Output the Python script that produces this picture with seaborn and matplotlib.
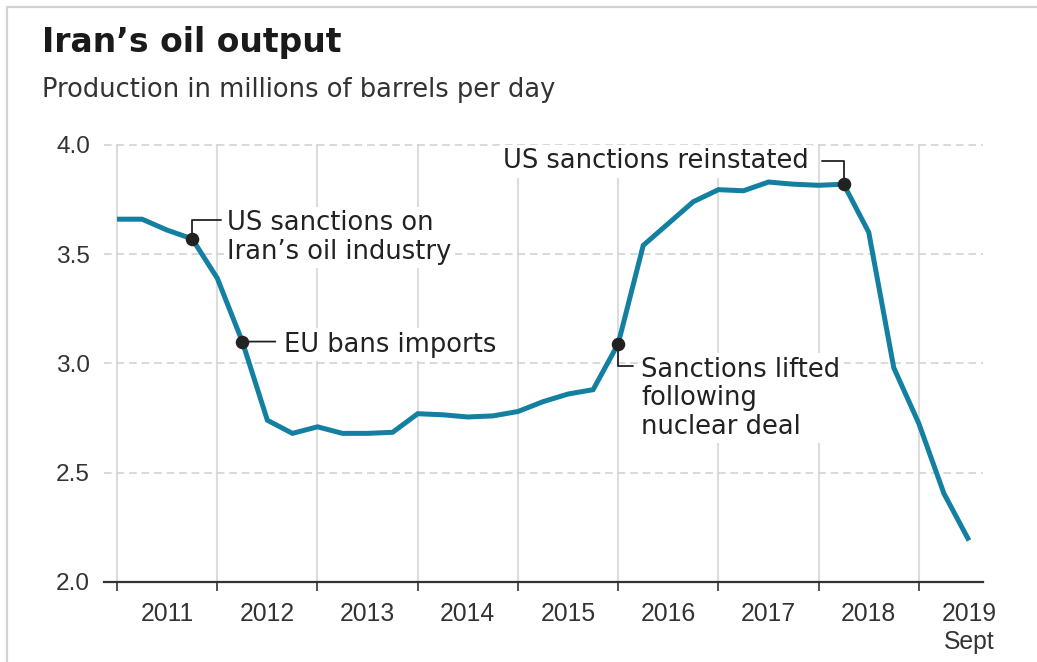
import matplotlib
matplotlib.use("Agg")
import numpy as np
import pandas as pd
import matplotlib.pyplot as plt
from matplotlib.lines import Line2D
import seaborn as sns

# Quarterly crude output, millions of barrels per day
quarters = pd.period_range("2011Q1", "2019Q3", freq="Q")
output_mbpd = [3.66, 3.66, 3.61, 3.57, 3.39, 3.10, 2.74, 2.68, 2.71, 2.68, 2.68, 2.685,
               2.77, 2.765, 2.755, 2.76, 2.78, 2.825, 2.86, 2.88, 3.09, 3.54, 3.64, 3.74,
               3.795, 3.79, 3.83, 3.82, 3.815, 3.82, 3.60, 2.98, 2.725, 2.405, 2.19]

year_ticks = list(range(2011, 2020))
year_labels = ["2011", "2012", "2013", "2014", "2015", "2016", "2017", "2018", "2019\nSept"]
y_ticks = [2.0, 2.5, 3.0, 3.5, 4.0]
y_labels = ["2.0", "2.5", "3.0", "3.5", "4.0"]

event_quarters = ["2011Q4", "2012Q2", "2016Q1", "2018Q2"]
event_labels = ["US sanctions on\nIran\u2019s oil industry",
                "EU bans imports",
                "Sanctions lifted\nfollowing\nnuclear deal",
                "US sanctions reinstated"]

LINE = "#1380A1"
INK = "#222222"

df = pd.DataFrame({
    "t": quarters.year + (quarters.quarter - 1) / 4.0,
    "value": output_mbpd,
})
ev_periods = pd.PeriodIndex(event_quarters, freq="Q")
ev = pd.DataFrame({
    "t": ev_periods.year + (ev_periods.quarter - 1) / 4.0,
    "label": event_labels,
})
ev["value"] = np.interp(ev["t"], df["t"], df["value"])

sns.set_theme(style="white")
plt.rcParams["font.family"] = ["Liberation Sans", "DejaVu Sans"]

W, H = 1037, 662
fig = plt.figure(figsize=(W / 100, H / 100), dpi=100)
fig.patch.set_facecolor("white")
ax = fig.add_axes([104 / W, 80 / H, 879 / W, 438 / H])
ax.set_facecolor("white")

sns.lineplot(data=df, x="t", y="value", ax=ax, color=LINE, linewidth=3.6,
             zorder=4, solid_capstyle="butt", solid_joinstyle="miter")
sns.scatterplot(data=ev, x="t", y="value", ax=ax, color=INK, s=95,
                linewidth=0, zorder=6)

ax.set_xlim(2010.87, 2019.64)
ax.set_ylim(2.0, 4.004)
ax.set_xlabel("")
ax.set_ylabel("")

# year boundaries carry the tick marks, year names sit mid-year
ax.set_xticks(year_ticks)
ax.set_xticklabels([])
ax.set_xticks([y + 0.5 for y in year_ticks], minor=True)
ax.set_xticklabels(year_labels, minor=True)
ax.tick_params(axis="x", which="major", bottom=True, length=6.5, width=1.2,
               color="#333333", direction="out")
ax.tick_params(axis="x", which="minor", bottom=True, length=0, pad=14.5,
               labelsize=17.8, labelcolor="#333333")
ax.set_yticks(y_ticks)
ax.set_yticklabels(y_labels)
ax.tick_params(axis="y", length=0, pad=10, labelsize=17.6, labelcolor="#333333")

ax.set_axisbelow(True)
ax.yaxis.grid(True, color="#d0d0d0", linestyle=(0, (5, 3.2)), linewidth=1.1)
ax.xaxis.grid(True, which="major", color="#dddddd", linestyle="-", linewidth=1.5)
for side in ["left", "right", "top"]:
    ax.spines[side].set_visible(False)
ax.spines["bottom"].set_color("#333333")
ax.spines["bottom"].set_linewidth(1.6)
ax.spines["bottom"].set_zorder(5)

# annotation layout in points: leader end offset, offset of the last text baseline
layout = [
    dict(lead=(20.9, 13.7), elbow=True, txt=(25.2, -14.4), ha="left"),
    dict(lead=(23.8, 0.0), elbow=False, txt=(30.2, -7.2), ha="left"),
    dict(lead=(10.8, -15.8), elbow=True, txt=(16.6, -64.8), ha="left"),
    dict(lead=(-15.8, 16.6), elbow=True, txt=(-25.2, 11.5), ha="right"),
]
for (_, row), lay in zip(ev.iterrows(), layout):
    cs = "angle,angleA=0,angleB=90,rad=0" if lay["elbow"] else "arc3"
    ax.annotate("", xy=(row["t"], row["value"]), xytext=lay["lead"],
                textcoords="offset points",
                arrowprops=dict(arrowstyle="-", color=INK, lw=1.3,
                                shrinkA=0, shrinkB=0, connectionstyle=cs),
                zorder=5)
    ax.annotate(row["label"], xy=(row["t"], row["value"]), xytext=lay["txt"],
                textcoords="offset points", ha=lay["ha"], va="baseline",
                fontsize=18.5, family="DejaVu Sans", color=INK, linespacing=1.12,
                bbox=dict(facecolor="white", edgecolor="none", pad=2.5),
                zorder=3)

fig.text(42 / W, 1 - 52 / H, "Iran\u2019s oil output", fontsize=23.8,
         fontweight="bold", family="DejaVu Sans", color="#1a1a1a",
         ha="left", va="baseline")
fig.text(42 / W, 1 - 97 / H, "Production in millions of barrels per day",
         fontsize=18.5, family="DejaVu Sans", color="#333333",
         ha="left", va="baseline")

# frame edges along the top and left
fig.add_artist(Line2D([7 / W, 1.0], [1 - 7 / H, 1 - 7 / H], transform=fig.transFigure,
                      color="#d2d2d2", linewidth=1.6))
fig.add_artist(Line2D([7 / W, 7 / W], [0.0, 1 - 7 / H], transform=fig.transFigure,
                      color="#d2d2d2", linewidth=1.6))

fig.savefig("out.png", dpi=100, facecolor="white")
